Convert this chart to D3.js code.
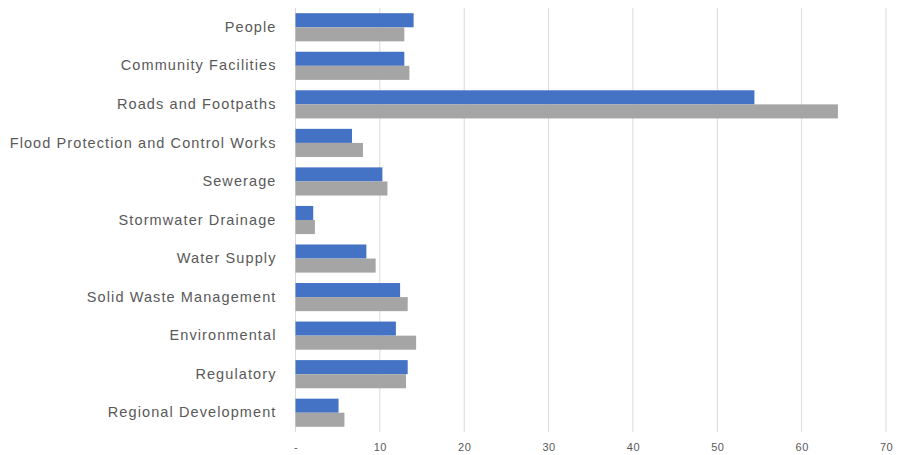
<!DOCTYPE html>
<html>
<head>
<meta charset="utf-8">
<script src="https://cdn.jsdelivr.net/npm/d3@7"></script>
<style>
  body { margin: 0; background: #fff; }
  svg { display: block; }
</style>
</head>
<body>
<div id="chart"></div>
<script>
// Chart data
const categories = ["People", "Community Facilities", "Roads and Footpaths", "Flood Protection and Control Works",
    "Sewerage", "Stormwater Drainage", "Water Supply", "Solid Waste Management", "Environmental",
    "Regulatory", "Regional Development"];
const seriesA = [14.0, 12.9, 54.4, 6.7, 10.3, 2.1, 8.4, 12.4, 11.9, 13.3, 5.1];
const seriesB = [12.9, 13.5, 64.3, 8.0, 10.9, 2.3, 9.5, 13.3, 14.3, 13.1, 5.8];
const xTicks = [0, 10, 20, 30, 40, 50, 60, 70];

const width = 904, height = 455;
const margin = {top: 8, right: 18, bottom: 23, left: 295.5};

const svg = d3.select("#chart").append("svg")
    .attr("width", width)
    .attr("height", height);

const x = d3.scaleLinear()
    .domain([0, 70])
    .range([margin.left, width - margin.right]);

const y = d3.scaleBand()
    .domain(categories)
    .range([margin.top, height - margin.bottom])
    .paddingInner(0.27)
    .paddingOuter(0.135);

const sub = d3.scaleBand()
    .domain(["a", "b"])
    .range([0, y.bandwidth()]);

// Gridlines
svg.append("g")
    .selectAll("line")
    .data(xTicks)
    .join("line")
        .attr("x1", d => x(d))
        .attr("x2", d => x(d))
        .attr("y1", margin.top)
        .attr("y2", height - margin.bottom)
        .attr("stroke", "#d9d9d9")
        .attr("stroke-width", 1);

// Bars
const groups = svg.append("g")
    .selectAll("g")
    .data(categories)
    .join("g")
        .attr("transform", d => `translate(0, ${y(d)})`);

groups.append("rect")
    .attr("x", x(0))
    .attr("y", sub("a"))
    .attr("width", (d, i) => x(seriesA[i]) - x(0))
    .attr("height", sub.bandwidth())
    .attr("fill", "#4472c4");

groups.append("rect")
    .attr("x", x(0))
    .attr("y", sub("b"))
    .attr("width", (d, i) => x(seriesB[i]) - x(0))
    .attr("height", sub.bandwidth())
    .attr("fill", "#a5a5a5");

// Category labels
const yAxis = svg.append("g")
    .attr("transform", `translate(${margin.left}, 0)`)
    .call(d3.axisLeft(y).tickSize(0).tickPadding(19));
yAxis.select(".domain").remove();
yAxis.selectAll("text")
    .style("font", "14.5px 'Liberation Sans', Arial, sans-serif")
    .style("letter-spacing", "1.1px")
    .attr("fill", "#595959");

// Value axis
const xAxis = svg.append("g")
    .attr("transform", `translate(0, ${height - margin.bottom})`)
    .call(d3.axisBottom(x).tickValues(xTicks).tickSize(0).tickPadding(11)
        .tickFormat(d => d === 0 ? "-" : d));
xAxis.select(".domain").remove();
xAxis.selectAll("text")
    .style("font", "11px 'Liberation Sans', Arial, sans-serif")
    .style("letter-spacing", "0.5px")
    .attr("fill", "#595959");
</script>
</body>
</html>
